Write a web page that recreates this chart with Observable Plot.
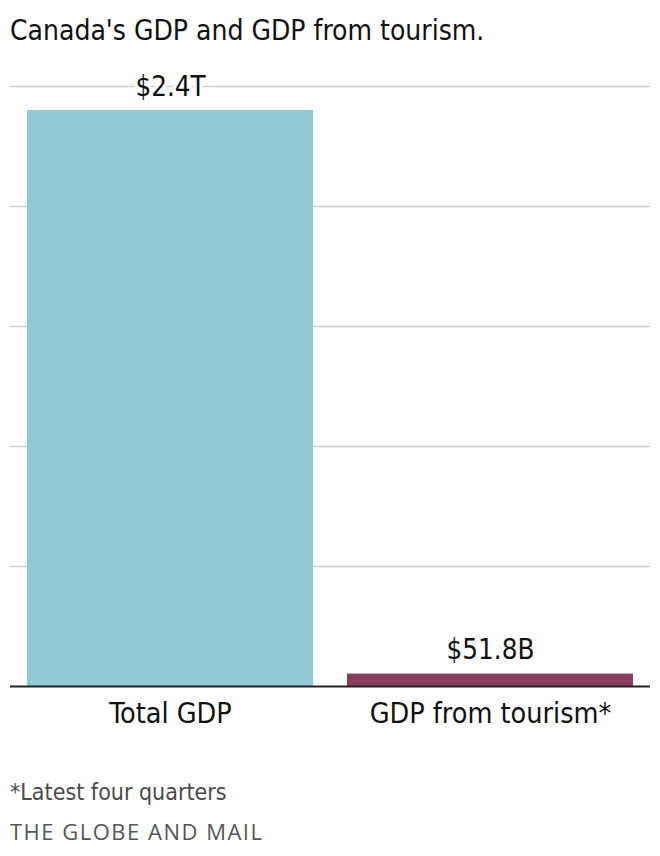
<!DOCTYPE html>
<html>
<head>
<meta charset="utf-8">
<script src="https://cdn.jsdelivr.net/npm/d3@7"></script>
<script src="https://cdn.jsdelivr.net/npm/@observablehq/plot@0.6"></script>
<style>
  body { margin: 0; background: #fff; width: 660px; }
  .title { font-family: "Liberation Sans Narrow", "DejaVu Sans Condensed", sans-serif; font-size: 28px; color: #111; padding: 14px 0 0 10px; box-sizing: border-box; height: 60px; }
  .note { font-family: "Liberation Sans Narrow", "DejaVu Sans Condensed", sans-serif; font-size: 23px; line-height: 28px; color: #4a4a4a; margin: 33px 0 0 10px; }
  .brand { font-family: "Open Sans", sans-serif; font-size: 22px; line-height: 28px; color: #555; letter-spacing: 1.5px; margin: 11px 0 0 10px; }
</style>
</head>
<body>
<div class="title">Canada's GDP and GDP from tourism.</div>
<div id="chart"></div>
<div class="note">*Latest four quarters</div>
<div class="brand">THE GLOBE AND MAIL</div>
<script>
const categories = ["Total GDP", "GDP from tourism*"];
const valuesT = [2.4, 0.0518]; // trillions of dollars
const valueLabels = ["$2.4T", "$51.8B"];
const barColors = ["#8fcad4", "#8b3d5f"];
const yTicks = [0.5, 1, 1.5, 2, 2.5];

const data = categories.map((c, i) => ({category: c, value: valuesT[i], label: valueLabels[i], color: barColors[i]}));
const font = '"Liberation Sans Narrow", "DejaVu Sans Condensed", sans-serif';

const chart = Plot.plot({
  width: 660,
  height: 685,
  marginTop: 26,
  marginBottom: 59,
  marginLeft: 10,
  marginRight: 10,
  style: {fontFamily: font, color: "#111", background: "#fff"},
  x: {domain: categories, paddingInner: 0.106, paddingOuter: 0.053, label: null},
  y: {domain: [0, 2.5], axis: null},
  marks: [
    Plot.ruleY(yTicks, {stroke: "#cfcfcf", strokeWidth: 1.5}),
    Plot.barY(data, {x: "category", y: "value", fill: "color"}),
    Plot.ruleY([0], {stroke: "#222", strokeWidth: 2}),
    Plot.text(data, {x: "category", y: "value", text: "label", dy: -15, lineAnchor: "bottom", fontSize: 27.5, fill: "#111", stroke: "white", strokeWidth: 6}),
    Plot.axisX({tickSize: 0, tickPadding: 16, fontSize: 28.5, fill: "#111"})
  ]
});
document.getElementById("chart").appendChild(chart);
</script>
</body>
</html>
